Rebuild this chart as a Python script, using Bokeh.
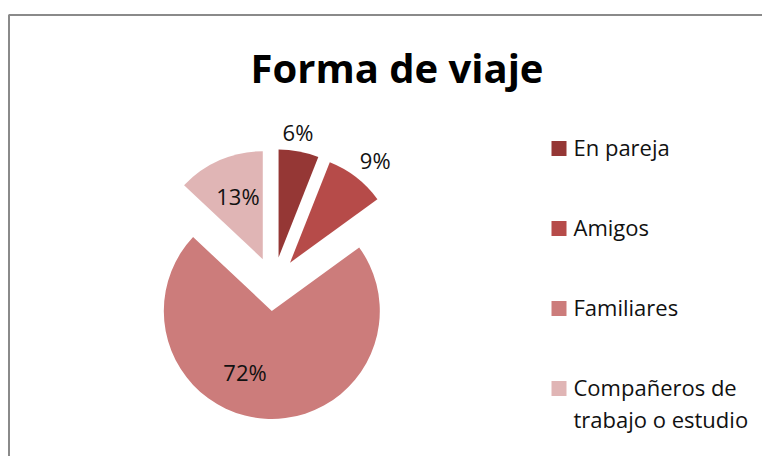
import math
from bokeh.plotting import figure
from bokeh.models import Range1d, ColumnDataSource
from bokeh.core.properties import value
from bokeh.embed import file_html
from bokeh.resources import INLINE

# ---- data ----
title_text = "Forma de viaje"
categories = ["En pareja", "Amigos", "Familiares", "Compañeros de\ntrabajo o estudio"]
percents = [6, 9, 72, 13]
colors = ["#953735", "#B64B49", "#CC7C7B", "#E0B5B5"]

# ---- layout (pixel-like coordinates: x = px, y = 456 - px) ----
W, H = 762, 456
def Y(sy):
    return H - sy

cx, cy = 273.0, Y(283.5)
radius = 108.0
explode = 27.0
label_r = [127, 133, 67, 68]      # per slice, same order as percents
label_da = [2, -2, -20, -2]
FONT = "Open Sans"

p = figure(width=W, height=H, output_backend="svg", toolbar_location=None,
           x_range=Range1d(0, W), y_range=Range1d(0, H),
           min_border=0, tools="")
p.axis.visible = False
p.grid.visible = False
p.outline_line_color = None
p.background_fill_color = "white"
p.border_fill_color = "white"

# border of chart area
p.quad(left=[8.5], right=[800], top=[Y(14.5)], bottom=[-20], fill_color=None,
       line_color="#8A8A8A", line_width=2)

total = float(sum(percents))
xs, ys, starts, ends, lx, ly, labels = [], [], [], [], [], [], []
cum = 0.0
for i, v in enumerate(percents):
    a0 = 90 - cum / total * 360
    a1 = 90 - (cum + v) / total * 360
    mid = (a0 + a1) / 2
    ex = cx + explode * math.cos(math.radians(mid))
    ey = cy + explode * math.sin(math.radians(mid))
    xs.append(ex); ys.append(ey)
    starts.append(math.radians(a1)); ends.append(math.radians(a0))
    la = math.radians(mid + label_da[i])
    lx.append(ex + label_r[i] * math.cos(la))
    ly.append(ey + label_r[i] * math.sin(la))
    labels.append(f"{v}%")
    cum += v

src = ColumnDataSource(dict(x=xs, y=ys, s=starts, e=ends, c=colors))
p.wedge(x="x", y="y", radius=radius, start_angle="s", end_angle="e",
        fill_color="c", line_color=None, source=src)

p.text(x=lx, y=ly, text=labels, text_font=value(FONT), text_font_size="22px",
       text_color="#111111", text_align="center", text_baseline="middle")

# title
p.text(x=[396.5], y=[Y(67)], text=[title_text], text_font=value(FONT),
       text_font_size="40px", text_font_style="bold", text_color="black",
       text_align="center", text_baseline="middle")

# legend
leg_x, leg_y0, leg_dy, line_h = 558.5, Y(148), 80, 32
sq_x, sq_y, sq_c, tx, ty, tt = [], [], [], [], [], []
for i, (cat, col) in enumerate(zip(categories, colors)):
    yy = leg_y0 - i * leg_dy
    sq_x.append(leg_x); sq_y.append(yy); sq_c.append(col)
    for j, line in enumerate(cat.split("\n")):
        tx.append(573); ty.append(yy + 2 - j * line_h); tt.append(line)
p.scatter(x=sq_x, y=sq_y, marker="square", size=15, fill_color=sq_c, line_color=None)
p.text(x=tx, y=ty, text=tt, text_font=value(FONT), text_font_size="22px",
       text_color="#111111", text_align="left", text_baseline="middle")

open("out.html", "w").write(file_html(p, INLINE))
